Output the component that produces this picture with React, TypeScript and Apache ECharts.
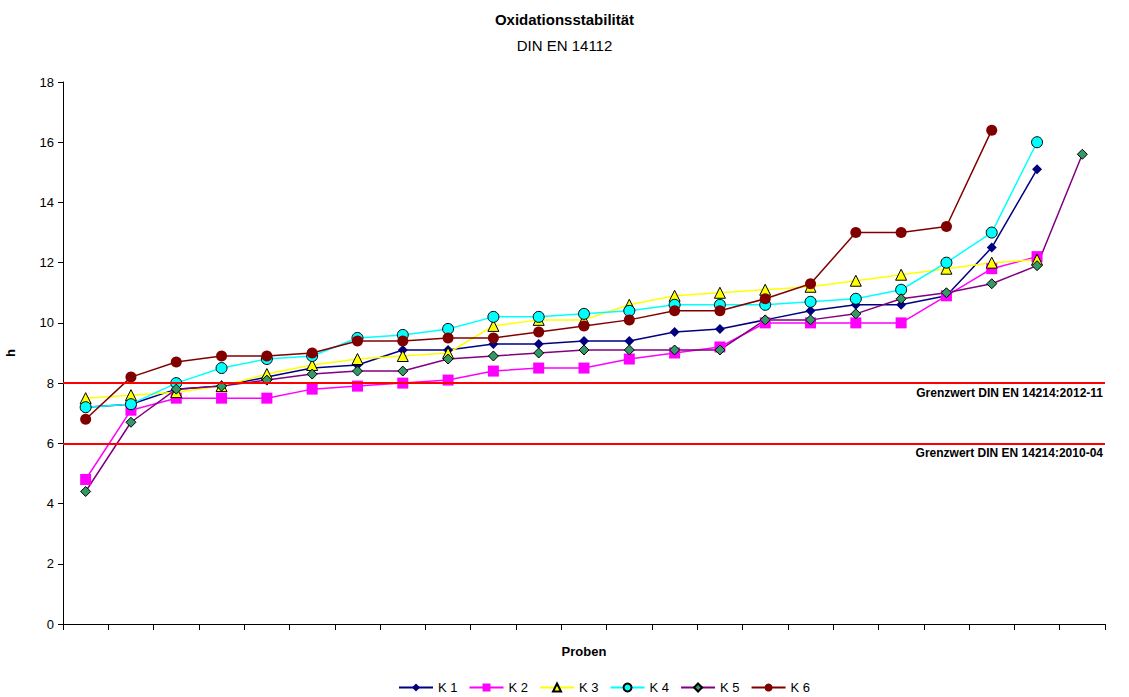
import React, { useEffect, useRef } from "react";
import * as echarts from "echarts";

const categories: string[] = Array.from({ length: 23 }, (_, i) => `P${i + 1}`);

const k1: number[] = [7.2, 7.3, 7.8, 7.9, 8.2, 8.5, 8.6, 9.1, 9.1, 9.3, 9.3, 9.4, 9.4, 9.7, 9.8, 10.1, 10.4, 10.6, 10.6, 10.9, 12.5, 15.1];
const k2: number[] = [4.8, 7.1, 7.5, 7.5, 7.5, 7.8, 7.9, 8.0, 8.1, 8.4, 8.5, 8.5, 8.8, 9.0, 9.2, 10.0, 10.0, 10.0, 10.0, 10.9, 11.8, 12.2];
const k3: number[] = [7.5, 7.6, 7.7, 7.9, 8.3, 8.6, 8.8, 8.9, 9.0, 9.9, 10.1, 10.1, 10.6, 10.9, 11.0, 11.1, 11.2, 11.4, 11.6, 11.8, 12.0, 12.1];
const k4: number[] = [7.2, 7.3, 8.0, 8.5, 8.8, 8.9, 9.5, 9.6, 9.8, 10.2, 10.2, 10.3, 10.4, 10.6, 10.6, 10.6, 10.7, 10.8, 11.1, 12.0, 13.0, 16.0];
const k5: number[] = [4.4, 6.7, 7.8, 7.9, 8.1, 8.3, 8.4, 8.4, 8.8, 8.9, 9.0, 9.1, 9.1, 9.1, 9.1, 10.1, 10.1, 10.3, 10.8, 11.0, 11.3, 11.9, 15.6];
const k6: number[] = [6.8, 8.2, 8.7, 8.9, 8.9, 9.0, 9.4, 9.4, 9.5, 9.5, 9.7, 9.9, 10.1, 10.4, 10.4, 10.8, 11.3, 13.0, 13.0, 13.2, 16.4];

const limits = [
  { value: 8, label: "Grenzwert DIN EN 14214:2012-11" },
  { value: 6, label: "Grenzwert DIN EN 14214:2010-04" },
];

const FONT = "'Liberation Sans', Arial, sans-serif";

export default function App() {
  const ref = useRef<HTMLDivElement>(null);
  useEffect(() => {
    if (!ref.current) return;
    const chart = echarts.init(ref.current, null, { renderer: "svg" });
    const mk = (
      name: string,
      data: number[],
      lineColor: string,
      fill: string,
      symbol: string,
      size: number,
      border: boolean
    ) => ({
      name,
      type: "line",
      data,
      symbol,
      symbolSize: size,
      showAllSymbol: true,
      lineStyle: { color: lineColor, width: 1.5 },
      itemStyle: {
        color: fill,
        borderColor: border ? "#000" : fill,
        borderWidth: border ? 1 : 0,
      },
      emphasis: { disabled: true },
      z: 3,
    });
    chart.setOption({
      animation: false,
      textStyle: { fontFamily: FONT },
      title: [
        {
          text: "Oxidationsstabilität",
          left: "center",
          top: 7,
          textStyle: { fontSize: 15, fontWeight: "bold", color: "#000", fontFamily: FONT },
        },
        {
          text: "DIN EN 14112",
          left: "center",
          top: 33,
          textStyle: { fontSize: 15, fontWeight: "normal", color: "#000", fontFamily: FONT },
        },
      ],
      legend: {
        bottom: 3,
        left: 398,
        padding: 0,
        itemWidth: 34,
        itemHeight: 10,
        itemGap: 11,
        textStyle: { fontSize: 13, color: "#000", fontFamily: FONT },
        data: ["K 1", "K 2", "K 3", "K 4", "K 5", "K 6"],
      },
      grid: { left: 63, right: 24, top: 82, bottom: 73, containLabel: false, outerBoundsMode: "none" },
      xAxis: {
        type: "category",
        data: categories,
        boundaryGap: true,
        name: "Proben",
        nameLocation: "middle",
        nameGap: 21,
        nameTextStyle: { fontSize: 13, fontWeight: "bold", color: "#000", fontFamily: FONT },
        axisLine: { lineStyle: { color: "#000", width: 1 } },
        axisTick: { show: true, interval: 0, length: 6, lineStyle: { color: "#000" } },
        axisLabel: { show: false },
        splitLine: { show: false },
      },
      yAxis: {
        type: "value",
        min: 0,
        max: 18,
        interval: 2,
        name: "h",
        nameLocation: "middle",
        nameGap: 46,
        nameRotate: 90,
        nameTextStyle: { fontSize: 13, fontWeight: "bold", color: "#000", fontFamily: FONT },
        axisLine: { show: true, lineStyle: { color: "#000", width: 1 } },
        axisTick: { show: true, length: 5, lineStyle: { color: "#000" } },
        axisLabel: { fontSize: 13, color: "#000", margin: 9, fontFamily: FONT },
        splitLine: { show: false },
      },
      series: [
        {
          ...mk("K 1", k1, "#000080", "#000080", "diamond", 10, false),
          markLine: {
            silent: true,
            symbol: ["none", "none"],
            lineStyle: { color: "#FF0000", width: 2, type: "solid" },
            label: {
              position: "insideEndBottom",
              fontSize: 12,
              fontWeight: "bold",
              color: "#000",
              fontFamily: FONT,
              distance: [2, 4],
            },
            data: limits.map((l) => ({ yAxis: l.value, label: { formatter: l.label } })),
          },
        },
        mk("K 2", k2, "#FF00FF", "#FF00FF", "rect", 11, false),
        mk("K 3", k3, "#FFFF00", "#FFFF00", "triangle", 11, true),
        mk("K 4", k4, "#00FFFF", "#00FFFF", "circle", 11, true),
        mk("K 5", k5, "#800080", "#339966", "diamond", 10, true),
        mk("K 6", k6, "#800000", "#800000", "circle", 11, false),
      ],
    });
    return () => chart.dispose();
  }, []);
  return (
    <div
      ref={ref}
      style={{ position: "fixed", left: 0, top: 0, width: 1129, height: 697, background: "#fff" }}
    />
  );
}
